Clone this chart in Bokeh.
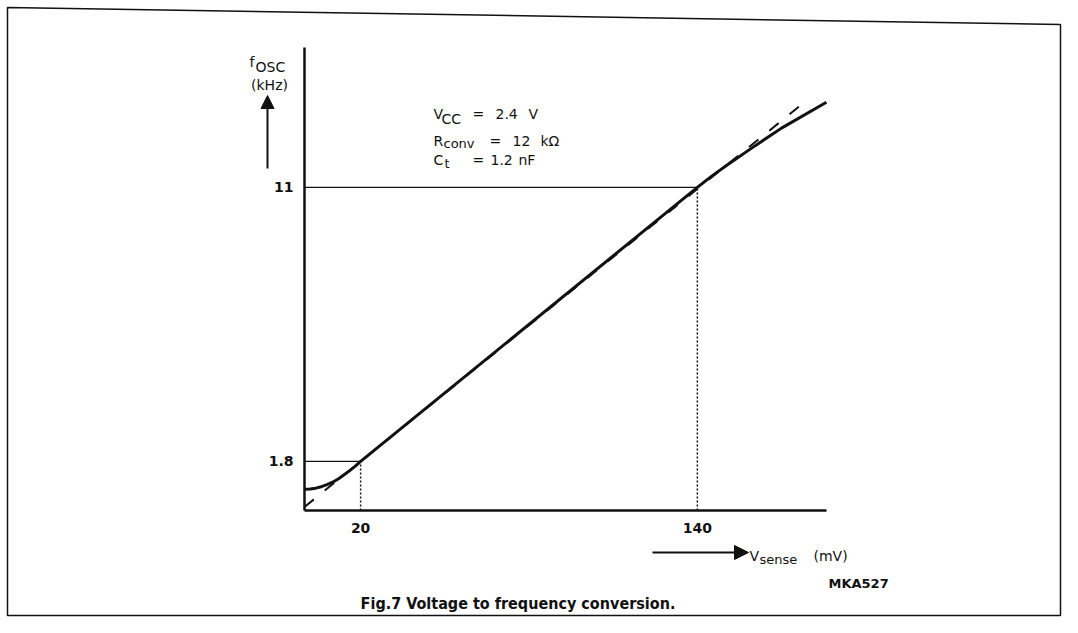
from bokeh.plotting import figure
from bokeh.models import Range1d, FixedTicker, Label, Arrow, NormalHead, PolyAnnotation
from bokeh.embed import file_html
from bokeh.resources import INLINE

# ---- data ----
vsense_curve = [0, 2, 4, 6, 8, 10, 12, 14, 16, 18, 20, 140, 145, 150, 160, 170, 186]
fosc_curve = [0.86, 0.87, 0.90, 0.95, 1.02, 1.10, 1.21, 1.34, 1.48, 1.63, 1.8,
              11.0, 11.37, 11.71, 12.36, 12.99, 13.86]
vsense_ideal = [0, 180]
fosc_ideal = [0.27, 14.0]
v_marks = [20, 140]
f_marks = [1.8, 11]

# ---- layout constants (pixels) ----
W, H = 1062, 617
PX0, PY0 = 304, 510      # axis corner
PX1, PY1 = 826, 47       # axis ends
XS, YS = 2.806, 29.78    # px per mV, px per kHz
Y0 = 0.15
X_END = (PX1 - PX0) / XS
Y_END = Y0 + (PY0 - PY1) / YS

def dx(px):
    return (px - PX0) / XS

def dy(py):
    return Y0 + (PY0 - py) / YS

p = figure(width=W, height=H, output_backend="svg", toolbar_location=None,
           x_range=Range1d(dx(0), dx(W)), y_range=Range1d(dy(H), dy(0)),
           min_border=0, title=None)
p.background_fill_color = "white"
p.border_fill_color = "white"
p.outline_line_color = None
p.grid.visible = False

INK = "#111111"
FONT = "DejaVu Sans"

for ax in (p.xaxis, p.yaxis):
    ax.major_tick_line_color = None
    ax.minor_tick_line_color = None
    ax.axis_line_width = 2.5
    ax.axis_line_color = INK
    ax.major_label_text_font = FONT
    ax.major_label_text_font_size = "14px"
    ax.major_label_text_font_style = "bold"
    ax.major_label_text_color = INK
p.xaxis.ticker = FixedTicker(ticks=v_marks)
p.yaxis.ticker = FixedTicker(ticks=f_marks)
p.xaxis.fixed_location = Y0
p.yaxis.fixed_location = 0
p.xaxis.bounds = (0, X_END)
p.yaxis.bounds = (Y0, Y_END)
p.xaxis.major_label_standoff = 6
p.yaxis.major_label_standoff = 5

# reference lines
p.segment(x0=[0, 0], y0=f_marks, x1=v_marks, y1=f_marks, line_color=INK, line_width=1.2)
p.segment(x0=v_marks, y0=[Y0, Y0], x1=v_marks, y1=f_marks, line_color=INK,
          line_width=1.5, line_dash="2 2")

# ideal (dashed) and measured curve
p.line(vsense_ideal, fosc_ideal, line_color=INK, line_width=2, line_dash="12 14")
p.line(vsense_curve, fosc_curve, line_color=INK, line_width=3, line_join="round")

# outer frame of the figure
p.add_layout(PolyAnnotation(xs=[dx(7), dx(1060), dx(1060), dx(7)],
                            ys=[dy(7), dy(24), dy(615), dy(615)],
                            fill_alpha=0, line_color=INK, line_alpha=1.0, line_width=1.5))

def lab(text, px, py, size="14px", style="normal", align="left", baseline="alphabetic", font=FONT):
    p.add_layout(Label(x=dx(px), y=dy(py), text=text, text_font=font,
                       text_font_size=size, text_font_style=style, text_color=INK,
                       text_align=align, text_baseline=baseline))

# y axis title
lab("f", 249, 61)
lab("OSC", 255, 66)
lab("(kHz)", 269, 84, align="center")
p.add_layout(Arrow(end=NormalHead(size=13, fill_color=INK, line_color=INK),
                   x_start=dx(267), y_start=dy(168), x_end=dx(267), y_end=dy(95),
                   line_color=INK, line_width=2))

# x axis title
p.add_layout(Arrow(end=NormalHead(size=14, fill_color=INK, line_color=INK),
                   x_start=dx(652), y_start=dy(552), x_end=dx(748), y_end=dy(552),
                   line_color=INK, line_width=2))
lab("V", 749, 555)
lab("sense", 759, 559, size="13px")
lab("(mV)", 813, 555)

# conditions
lab("V", 433, 113)
lab("CC", 441, 118)
lab("=", 472, 113)
lab("2.4", 495, 113)
lab("V", 528, 113)
lab("R", 433, 140)
lab("conv", 443, 143, size="13px")
lab("=", 489, 140)
lab("12", 512, 140)
lab("k\u03a9", 540, 140)
lab("C", 433, 159)
lab("t", 444, 163, size="13px")
lab("=", 472, 159)
lab("1.2", 490, 159)
lab("nF", 518, 159)

lab("MKA527", 828, 583, size="13px", style="bold")
lab("Fig.7  Voltage to frequency conversion.", 520, 603, size="16px", style="bold",
    align="center", font="DejaVu Sans Condensed")

open("out.html", "w").write(file_html(p, INLINE))
